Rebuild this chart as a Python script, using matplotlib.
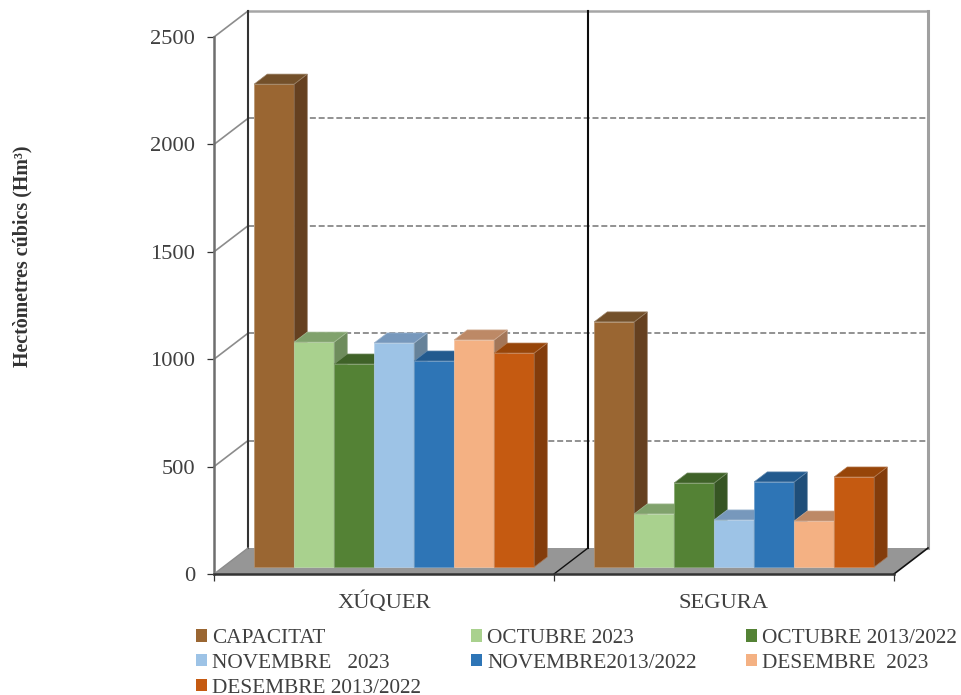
import matplotlib
matplotlib.use("Agg")
import matplotlib.pyplot as plt
from matplotlib.patches import Polygon, Patch
from matplotlib.colors import to_rgb

categories = ["XÚQUER", "SEGURA"]
series_names = ["CAPACITAT", "OCTUBRE 2023", "OCTUBRE 2013/2022", "NOVEMBRE   2023",
                "NOVEMBRE2013/2022", "DESEMBRE  2023", "DESEMBRE 2013/2022"]
xuquer = [2248, 1047, 945, 1043, 959, 1057, 996]
segura = [1141, 247, 391, 219, 396, 214, 419]
y_ticks = [0, 500, 1000, 1500, 2000, 2500]

front_cols = ["#9A6632", "#A9D18E", "#548235", "#9DC3E6", "#2E75B6", "#F4B183", "#C55A11"]
top_cols = ["#73502A", "#80A26C", "#3F6228", "#7798BC", "#225A8E", "#BD8966", "#974509"]
side_cols = ["#654020", "#6E8C5C", "#365523", "#668299", "#1F4E79", "#A37658", "#833C0B"]

SERIF = "Liberation Serif"
W, H = 961, 695
fig = plt.figure(figsize=(W / 100, H / 100), dpi=100, facecolor="white")
ax = fig.add_axes([214 / W, 1 - 574 / H, 680 / W, 537 / H])
ax.set_xlim(0, len(categories))
ax.set_ylim(0, 2500)
for s in ax.spines.values():
    s.set_visible(False)
ax.patch.set_visible(False)

# oblique projection: depth 0 = front plane, depth 1 = back wall
DX, DY = 0.1, 121.0


def P(x, v, d=0.0):
    return (x + DX * d, v + DY * d)


def poly(pts, z, **kw):
    ax.add_patch(Polygon(pts, closed=True, clip_on=False, zorder=z, **kw))


def line(pts, z, **kw):
    ax.plot([p[0] for p in pts], [p[1] for p in pts], clip_on=False, zorder=z,
            solid_capstyle="projecting", **kw)


n_cat = len(categories)
# floor
poly([P(0, 0), P(0, 0, 1), P(n_cat, 0, 1), P(n_cat, 0)], 1, facecolor="#969696", edgecolor="none")
# walls
for v in y_ticks[1:]:
    line([P(0, v), P(0, v, 1)], 2, color="#8C8C8C", lw=1.2)
    if v == y_ticks[-1]:
        line([P(0, v, 1), P(n_cat, v, 1)], 2, color="#A6A6A6", lw=1.8)
    else:
        ax.plot([P(0, v, 1)[0], P(n_cat, v, 1)[0]], [P(0, v, 1)[1]] * 2, clip_on=False, zorder=2,
                color="#7F7F7F", lw=1.2, linestyle=(0, (3.6, 1.7)))
line([P(0, 0, 1), P(0, 2500, 1)], 3, color="#333333", lw=1.5)
line([P(1, 0, 1), P(1, 2500, 1)], 3, color="#0D0D0D", lw=1.5)
line([P(2, 0, 1), P(2, 2500, 1)], 3, color="#A0A0A0", lw=2.2)
line([P(0, 0), P(0, 2500)], 3, color="#6E6E6E", lw=1.8)
line([P(0, 0), P(0, 0, 1)], 3, color="#8C8C8C", lw=1.0)
line([P(1, 0), P(1, 0, 1)], 3, color="#111111", lw=1.0)
line([P(2, 0), P(2, 0, 1)], 3, color="#111111", lw=1.2)
line([P(0, 0), P(2, 0)], 3, color="#333333", lw=1.8)

# bars
bar_w = 1 / 8.5
gap = 0.775 * bar_w
D0, D1 = 0.27, 0.655


def edge(c):
    r = to_rgb(c)
    return tuple(0.72 * a + 0.28 for a in r)


z = 5
for ci, vals in enumerate([xuquer, segura]):
    for si, v in enumerate(vals):
        x0 = ci + gap + si * bar_w
        x1 = x0 + bar_w
        poly([P(x0, 0, D0), P(x1, 0, D0), P(x1, v, D0), P(x0, v, D0)], z,
             facecolor=front_cols[si], edgecolor=edge(front_cols[si]), lw=0.5)
        poly([P(x1, 0, D0), P(x1, 0, D1), P(x1, v, D1), P(x1, v, D0)], z,
             facecolor=side_cols[si], edgecolor=edge(side_cols[si]), lw=0.5)
        poly([P(x0, v, D0), P(x1, v, D0), P(x1, v, D1), P(x0, v, D1)], z,
             facecolor=top_cols[si], edgecolor=edge(top_cols[si]), lw=0.5)
        z += 1

# axes ticks and labels
ax.set_yticks(y_ticks)
ax.set_yticklabels([str(v) for v in y_ticks], fontfamily=SERIF, fontsize=16.2, color="#404040")
ax.tick_params(axis="y", length=5, width=0.9, color="#333333", pad=8.5)
ax.set_xticks(range(n_cat + 1))
ax.set_xticklabels([])
ax.set_xticks([i + 0.5 for i in range(n_cat)], minor=True)
ax.set_xticklabels(categories, minor=True, fontfamily=SERIF, fontsize=16.2, color="#404040", va="baseline")
ax.tick_params(axis="x", which="major", length=5, width=0.9, color="#333333")
ax.tick_params(axis="x", which="minor", length=0, pad=24.5)

fig.text(22 / W, 1 - 256 / H, "Hectòmetres cúbics (Hm³)", rotation=90, ha="center", va="center",
         fontfamily=SERIF, fontsize=14.4, fontweight="bold", color="#333333")

# legend: column-first order that reads row by row like the original
order = [0, 3, 6, 1, 4, 2, 5]
handles = [Patch(facecolor=front_cols[i], edgecolor="none", label=series_names[i]) for i in order]
fig.legend(handles=handles, ncol=3, loc="upper left", bbox_to_anchor=(196 / W, 1 - 629 / H),
           frameon=False, borderaxespad=0, borderpad=0,
           prop={"family": SERIF, "size": 15.35}, labelcolor="#404040",
           handlelength=0.52, handleheight=0.52, handletextpad=0.24,
           columnspacing=2.33, labelspacing=0.27)

fig.savefig("out.png", dpi=100)
